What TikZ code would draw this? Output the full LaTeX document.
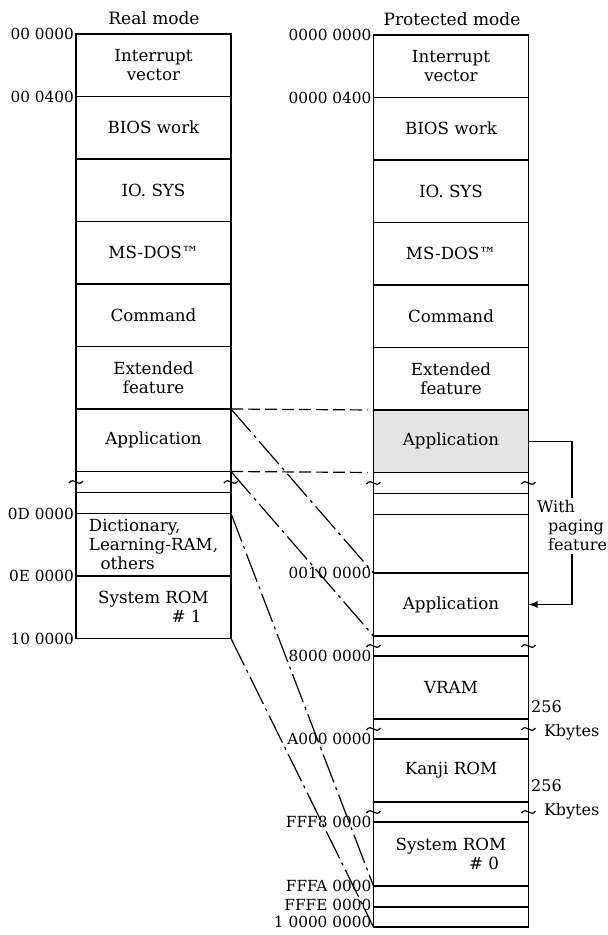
\documentclass[tikz,border=0pt]{standalone}
\usepackage{fontspec}
\setmainfont{DejaVu Serif}
\usepackage{tikz}
\usetikzlibrary{arrows.meta,positioning}

\begin{document}
\begin{tikzpicture}[x=1pt,y=-1pt,node distance=0pt]
      \tikzstyle{cell}=[draw,line width=1.8pt,outer sep=0pt,inner sep=1pt,minimum width=155pt,minimum height=62.5pt,align=center,font=\fontsize{16.7}{19}\selectfont]
      \tikzstyle{gap}=[cell,minimum height=21pt]
      \tikzstyle{addr}=[anchor=east,inner sep=2pt,font=\fontsize{15.3}{18}\selectfont]
      \tikzstyle{title}=[font=\fontsize{17}{20}\selectfont]
      \tikzstyle{note}=[align=left,inner xsep=0pt,inner ysep=3pt,font=\fontsize{16}{19}\selectfont]
      \tikzstyle{kbnote}=[note,anchor=west,font=\fontsize{16}{24}\selectfont]
      \tikzstyle{map}=[line width=1.2pt,dash pattern=on 30pt off 5pt on 3pt off 5pt]
      \tikzstyle{copy}=[line width=1.2pt,dash pattern=on 12pt off 5pt,shorten >=6pt]
      \tikzstyle{brk}=[line width=1.2pt]

      \useasboundingbox (0,0) rectangle (608,935);

      % real mode
      \node[title] (tReal) at (154,18) {Real mode};
      \node[cell,anchor=north] (lIV) at (153.5,34) {Interrupt\\vector};
      \node[cell,below=of lIV] (lBIOS) {BIOS work};
      \node[cell,below=of lBIOS] (lIO) {IO. SYS};
      \node[cell,below=of lIO] (lDOS) {MS-DOS™};
      \node[cell,below=of lDOS] (lCmd) {Command};
      \node[cell,below=of lCmd] (lExt) {Extended\\feature};
      \node[cell,below=of lExt] (lApp) {Application};
      \node[gap,below=of lApp] (lGap) {};
      \node[gap,below=of lGap] (lFree) {};
      \node[cell,below=of lFree,align=left] (lDict) {Dictionary,\\Learning-RAM,\\\hspace*{0.7em}others};
      \node[cell,below=of lDict,align=left] (lROM) {System ROM\\\hspace*{4.4em}\# 1};

      \node[addr] (aR0) at (lIV.north west) {00 0000};
      \node[addr] (aR1) at (lBIOS.north west) {00 0400};
      \node[addr] (aR2) at (lDict.north west) {0D 0000};
      \node[addr] (aR3) at (lROM.north west) {0E 0000};
      \node[addr] (aR4) at (lROM.south west) {10 0000};

      % protected mode
      \node[title] (tProt) at (452,19) {Protected mode};
      \node[cell,anchor=north] (rIV) at (451,35) {Interrupt\\vector};
      \node[cell,below=of rIV] (rBIOS) {BIOS work};
      \node[cell,below=of rBIOS] (rIO) {IO. SYS};
      \node[cell,below=of rIO] (rDOS) {MS-DOS™};
      \node[cell,below=of rDOS] (rCmd) {Command};
      \node[cell,below=of rCmd] (rExt) {Extended\\feature};
      \node[cell,fill=black!10,below=of rExt] (rApp) {Application};
      \node[gap,below=of rApp] (rGap) {};
      \node[gap,below=of rGap] (rFree) {};
      \node[cell,minimum height=58.5pt,below=of rFree] (rExtMem) {};
      \node[cell,minimum height=63pt,below=of rExtMem] (rApp2) {Application};
      \node[gap,minimum height=20pt,below=of rApp2] (rGapA) {};
      \node[cell,minimum height=63pt,below=of rGapA] (rVRAM) {VRAM};
      \node[gap,minimum height=20pt,below=of rVRAM] (rGapB) {};
      \node[cell,minimum height=63pt,below=of rGapB] (rKanji) {Kanji ROM};
      \node[gap,minimum height=20pt,below=of rKanji] (rGapC) {};
      \node[cell,minimum height=64pt,below=of rGapC,align=left] (rROM) {System ROM\\\hspace*{4.4em}\# 0};
      \node[gap,below=of rROM] (rBoot) {};
      \node[gap,minimum height=20pt,below=of rBoot] (rTop) {};

      % breaks
      \foreach \g in {lGap,rGap,rGapA,rGapB,rGapC}{
        \draw[brk,shift={(\g.west)}] (-7,1) .. controls (-2,-6) and (2,6) .. (7,-1);
        \draw[brk,shift={(\g.east)}] (-7,1) .. controls (-2,-6) and (2,6) .. (7,-1);
      }

      % mapping
      \draw[copy] (lApp.north east) -- (rApp.north west);
      \draw[copy] (lApp.south east) -- (rApp.south west);
      \draw[map] (lApp.north east) -- (rApp2.north west);
      \draw[map] (lApp.south east) -- (rApp2.south west);
      \draw[map] (lDict.north east) -- (rROM.south west);
      \draw[map] (lROM.south east) -- (rTop.south west);

      \node[addr] (aP0) at (rIV.north west) {0000 0000};
      \node[addr] (aP1) at (rBIOS.north west) {0000 0400};
      \node[addr] (aP2) at (rApp2.north west) {0010 0000};
      \node[addr] (aP3) at (rVRAM.north west) {8000 0000};
      \node[addr] (aP4) at (rKanji.north west) {A000 0000};
      \node[addr] (aP5) at (rROM.north west) {FFF8 0000};
      \node[addr] (aP6) at (rBoot.north west) {FFFA 0000};
      \node[addr,yshift=2pt] (aP7) at (rTop.north west) {FFFE 0000};
      \node[addr,yshift=5pt] (aP8) at (rTop.south west) {1 0000 0000};

      % paging
      \node[note] (paging) at (572,526) {With\\\hspace*{0.7em}paging\\\hspace*{0.7em}feature};
      \draw[brk] (rApp.east) -| (paging.north);
      \draw[brk,-{Latex[length=9pt,width=7pt]}] (paging.south) |- (rApp2.east);

      \node[kbnote] (kb1) at (531,720) {256\\\hspace*{0.8em}Kbytes};
      \node[kbnote] (kb2) at (531,799) {256\\\hspace*{0.8em}Kbytes};
\end{tikzpicture}
\end{document}
